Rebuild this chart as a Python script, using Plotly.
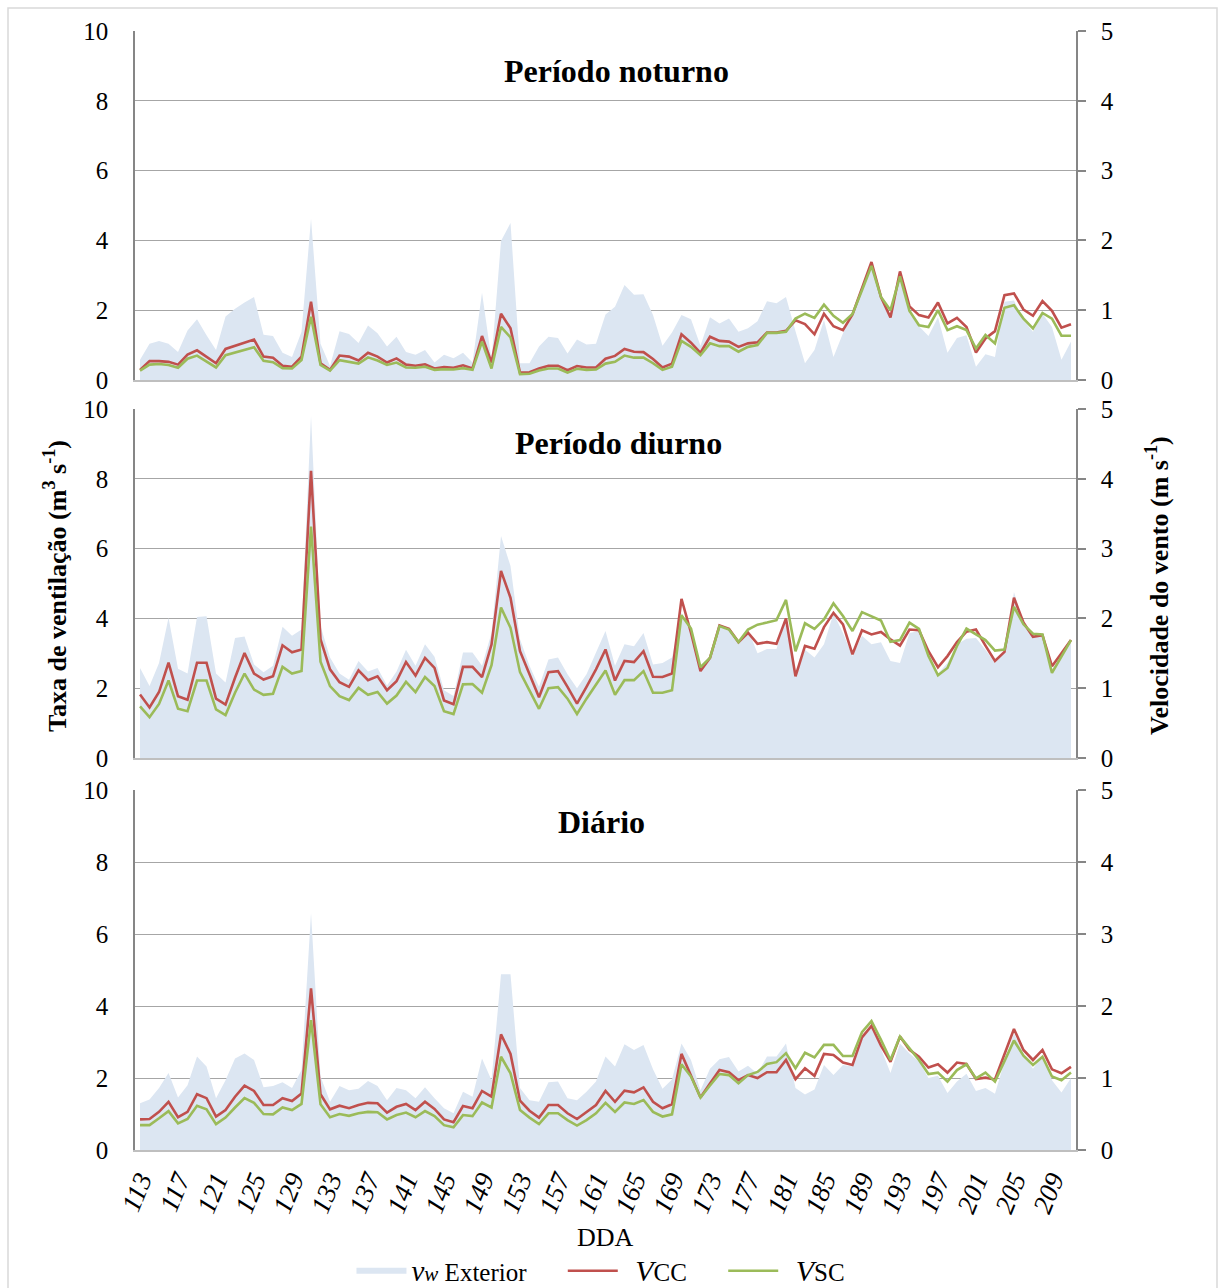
import plotly.graph_objects as go

days = list(range(113, 212))
tick_days = list(range(113, 211, 4))
tick_labels = [str(d) for d in tick_days]

# ---------- Período noturno ----------
vcc_noturno = [0.29,0.54,0.54,0.52,0.44,0.73,0.85,0.67,0.48,0.89,0.98,1.07,1.16,0.67,0.64,0.41,0.38,0.67,2.24,0.48,
               0.29,0.70,0.67,0.56,0.78,0.67,0.50,0.62,0.44,0.41,0.45,0.33,0.37,0.35,0.42,0.33,1.26,0.50,1.90,1.48,
               0.21,0.22,0.33,0.41,0.41,0.28,0.40,0.36,0.36,0.61,0.69,0.89,0.81,0.80,0.60,0.36,0.47,1.31,1.07,0.78,
               1.24,1.12,1.10,0.95,1.05,1.08,1.36,1.36,1.41,1.71,1.60,1.31,1.90,1.54,1.43,1.88,2.65,3.38,2.38,1.79,
               3.11,2.11,1.86,1.79,2.22,1.62,1.78,1.52,0.79,1.19,1.40,2.43,2.48,2.02,1.84,2.26,1.98,1.50,1.60]
vsc_noturno = [0.27,0.44,0.46,0.43,0.35,0.61,0.70,0.52,0.36,0.71,0.79,0.87,0.94,0.55,0.51,0.34,0.33,0.57,1.81,0.43,
               0.27,0.57,0.53,0.47,0.65,0.56,0.43,0.50,0.36,0.35,0.38,0.29,0.31,0.30,0.34,0.29,1.10,0.33,1.52,1.22,
               0.17,0.18,0.27,0.33,0.33,0.21,0.32,0.29,0.30,0.47,0.52,0.70,0.64,0.64,0.48,0.29,0.38,1.12,0.95,0.71,
               1.05,0.97,0.97,0.81,0.95,1.00,1.35,1.35,1.38,1.76,1.90,1.78,2.16,1.84,1.64,1.89,2.57,3.27,2.38,2.00,
               2.97,1.98,1.57,1.52,2.00,1.43,1.54,1.43,0.90,1.29,1.05,2.07,2.14,1.76,1.48,1.92,1.76,1.27,1.27]
vw_noturno = [0.29,0.52,0.56,0.52,0.40,0.71,0.87,0.64,0.43,0.91,1.02,1.11,1.19,0.65,0.63,0.39,0.33,0.69,2.31,0.52,
              0.20,0.70,0.66,0.53,0.78,0.67,0.48,0.62,0.40,0.36,0.43,0.25,0.36,0.31,0.39,0.25,1.25,0.29,1.99,2.25,
              0.24,0.24,0.48,0.62,0.60,0.38,0.58,0.51,0.52,0.94,1.05,1.36,1.22,1.23,0.93,0.49,0.68,0.93,0.87,0.49,
              0.90,0.81,0.88,0.69,0.74,0.84,1.13,1.10,1.19,0.70,0.24,0.43,0.86,0.33,0.67,0.95,1.31,1.64,1.19,0.93,
              1.48,0.95,0.77,0.63,0.90,0.39,0.60,0.64,0.19,0.37,0.33,1.12,1.14,0.86,0.69,0.95,0.76,0.29,0.55]

# ---------- Período diurno ----------
vcc_diurno = [1.82,1.45,1.89,2.73,1.77,1.67,2.73,2.73,1.70,1.53,2.30,3.01,2.42,2.25,2.34,3.23,3.03,3.11,8.23,3.40,
              2.54,2.17,2.04,2.51,2.23,2.34,1.94,2.20,2.75,2.36,2.87,2.58,1.65,1.54,2.61,2.61,2.32,3.25,5.36,4.59,
              3.06,2.39,1.74,2.46,2.49,2.04,1.56,2.04,2.54,3.11,2.22,2.78,2.75,3.06,2.33,2.32,2.42,4.56,3.59,2.49,
              2.87,3.80,3.70,3.32,3.59,3.27,3.32,3.27,4.00,2.34,3.21,3.13,3.75,4.16,3.83,2.97,3.66,3.54,3.61,3.40,
              3.22,3.68,3.66,3.06,2.60,2.92,3.32,3.62,3.68,3.22,2.78,3.04,4.59,3.88,3.47,3.52,2.63,3.00,3.38]
vsc_diurno = [1.48,1.17,1.55,2.22,1.41,1.34,2.22,2.22,1.39,1.23,1.87,2.42,1.96,1.81,1.84,2.61,2.42,2.49,6.63,2.76,
              2.06,1.77,1.66,2.01,1.81,1.89,1.56,1.79,2.18,1.89,2.32,2.06,1.34,1.26,2.11,2.12,1.87,2.66,4.31,3.73,
              2.46,1.93,1.41,2.00,2.03,1.70,1.26,1.70,2.11,2.51,1.81,2.23,2.23,2.49,1.87,1.87,1.94,4.09,3.71,2.60,
              2.87,3.78,3.68,3.32,3.68,3.82,3.88,3.95,4.53,3.06,3.86,3.70,3.97,4.43,4.07,3.64,4.18,4.07,3.94,3.33,
              3.38,3.88,3.70,2.92,2.37,2.58,3.21,3.71,3.54,3.38,3.08,3.11,4.33,3.83,3.56,3.54,2.44,2.92,3.38]
vw_diurno = [1.29,1.03,1.36,2.01,1.28,1.21,2.02,2.03,1.21,1.08,1.72,1.74,1.34,1.23,1.32,1.88,1.75,1.84,4.90,1.89,
             1.44,1.21,1.12,1.39,1.24,1.29,1.04,1.24,1.55,1.32,1.63,1.45,0.97,0.89,1.51,1.51,1.32,1.79,3.18,2.75,
             1.70,1.32,1.02,1.41,1.44,1.20,1.00,1.20,1.51,1.82,1.32,1.63,1.60,1.79,1.34,1.36,1.44,2.08,1.79,1.32,
             1.46,1.89,1.82,1.65,1.84,1.50,1.56,1.56,1.99,1.15,1.55,1.44,1.63,2.07,1.79,1.46,1.75,1.63,1.66,1.39,
             1.36,1.79,1.82,1.46,1.21,1.36,1.63,1.71,1.72,1.55,1.36,1.51,2.38,1.93,1.75,1.77,1.27,1.48,1.69]

# ---------- Diário ----------
vcc_diario = [0.85,0.86,1.06,1.34,0.91,1.06,1.55,1.44,0.93,1.11,1.48,1.79,1.64,1.25,1.25,1.44,1.36,1.57,4.49,1.55,
              1.13,1.23,1.16,1.25,1.31,1.30,1.04,1.20,1.28,1.11,1.34,1.14,0.85,0.77,1.22,1.16,1.64,1.48,3.21,2.67,
              1.37,1.09,0.90,1.25,1.25,1.02,0.86,1.05,1.25,1.64,1.34,1.65,1.60,1.74,1.34,1.16,1.27,2.67,2.08,1.46,
              1.85,2.22,2.16,1.94,2.08,2.00,2.16,2.16,2.50,1.97,2.27,2.06,2.67,2.64,2.43,2.36,3.13,3.45,2.90,2.45,
              3.15,2.78,2.59,2.29,2.38,2.15,2.43,2.39,1.97,2.01,1.96,2.69,3.36,2.78,2.50,2.78,2.24,2.13,2.31]
vsc_diario = [0.69,0.69,0.88,1.08,0.74,0.86,1.23,1.13,0.72,0.90,1.18,1.44,1.31,1.00,0.99,1.18,1.11,1.28,3.61,1.27,
              0.91,1.00,0.95,1.02,1.06,1.05,0.85,0.97,1.04,0.91,1.08,0.94,0.69,0.63,0.97,0.94,1.32,1.18,2.59,2.13,
              1.11,0.90,0.72,1.02,1.02,0.83,0.68,0.83,1.02,1.31,1.06,1.32,1.28,1.39,1.06,0.93,0.99,2.38,2.04,1.46,
              1.79,2.11,2.08,1.85,2.08,2.17,2.39,2.44,2.69,2.27,2.70,2.57,2.92,2.92,2.61,2.61,3.27,3.58,3.06,2.50,
              3.15,2.82,2.50,2.11,2.15,1.90,2.22,2.38,1.99,2.15,1.90,2.47,3.04,2.62,2.36,2.59,2.04,1.94,2.15]
vw_diario = [0.65,0.70,0.86,1.07,0.73,0.90,1.30,1.16,0.72,0.97,1.27,1.34,1.25,0.87,0.89,0.94,0.86,1.11,3.29,1.02,
             0.67,0.89,0.83,0.85,0.96,0.89,0.69,0.86,0.83,0.72,0.87,0.72,0.58,0.51,0.81,0.74,1.27,0.97,2.44,2.44,
             0.86,0.69,0.67,0.94,0.95,0.72,0.69,0.81,0.95,1.30,1.16,1.47,1.39,1.46,1.12,0.85,0.98,1.48,1.25,0.83,
             1.13,1.26,1.29,1.09,1.17,1.06,1.30,1.30,1.48,0.86,0.77,0.84,1.18,1.04,1.18,1.16,1.55,1.71,1.41,1.07,
             1.48,1.34,1.23,1.00,1.03,0.79,0.95,1.06,0.82,0.86,0.78,1.23,1.62,1.34,1.13,1.32,0.97,0.80,1.00]

panel_titles = ["Período noturno", "Período diurno", "Diário"]
panels = [
    (vw_noturno, vcc_noturno, vsc_noturno),
    (vw_diurno, vcc_diurno, vsc_diurno),
    (vw_diario, vcc_diario, vsc_diario),
]

W, H = 1219, 1288
FONT = "'Liberation Serif', 'Times New Roman', Times, serif"
AREA = "#dce6f2"
RED = "#c0504d"
GREEN = "#9bbb59"
GRID = "#a6a6a6"
AXIS = "#868686"
NB = "\u00a0"

def py(pix):
    return 1 - pix / H

x_dom = [135 / W, 1076 / W]
y_doms = [[py(380), py(31)], [py(758), py(409)], [py(1150), py(790)]]

fig = go.Figure()
layout = dict(
    width=W, height=H,
    margin=dict(l=0, r=0, t=0, b=0, autoexpand=False),
    paper_bgcolor="white", plot_bgcolor="rgba(0,0,0,0)",
    font=dict(family=FONT, color="black", size=22),
    showlegend=True,
)

legend_names = [
    "<span style='font-size:29px'><i>v</i></span><span style='font-size:21px'><i>w</i></span> Exterior" + NB * 5,
    NB * 2 + "<span style='font-size:30px'><i>V</i></span>CC" + NB * 5,
    NB * 2 + "<span style='font-size:30px'><i>V</i></span>SC",
]

for i, (vw, vcc, vsc) in enumerate(panels):
    xa = "x" if i == 0 else f"x{i+1}"
    ya_area = "y" if i == 0 else f"y{2*i+1}"
    ya_line = f"y{2*i+2}"
    show = (i == 0)
    fig.add_trace(go.Scatter(x=days, y=vw, xaxis=xa, yaxis=ya_area, mode="none",
                             fill="tozeroy", fillcolor=AREA,
                             name=legend_names[0], showlegend=show, legendrank=1))
    fig.add_trace(go.Scatter(x=days, y=vcc, xaxis=xa, yaxis=ya_line, mode="lines",
                             line=dict(color=RED, width=2.6),
                             name=legend_names[1], showlegend=show, legendrank=2))
    fig.add_trace(go.Scatter(x=days, y=vsc, xaxis=xa, yaxis=ya_line, mode="lines",
                             line=dict(color=GREEN, width=2.6),
                             name=legend_names[2], showlegend=show, legendrank=3))

    xkey = "xaxis" if i == 0 else f"xaxis{i+1}"
    ykey_area = "yaxis" if i == 0 else f"yaxis{2*i+1}"
    ykey_line = f"yaxis{2*i+2}"
    last = (i == 2)
    layout[xkey] = dict(
        domain=x_dom, anchor=ya_area, range=[112.47, 211.53], automargin=False,
        showgrid=False, zeroline=False, showline=True, linecolor="#bfbfbf", linewidth=1.5,
        ticks="", tickmode="array", tickvals=tick_days, ticktext=tick_labels,
        showticklabels=last, tickangle=-68, ticklabelstandoff=2,
        tickfont=dict(family=FONT, size=27, color="black", style="italic"),
    )
    if i > 0:
        layout[xkey]["matches"] = "x"
    layout[ykey_area] = dict(
        domain=y_doms[i], anchor=xa, side="right", range=[0, 5], automargin=False,
        tickmode="linear", tick0=0, dtick=1,
        showgrid=False, zeroline=False, showline=True, linecolor=AXIS, linewidth=1.5,
        ticks="outside", ticklen=8, tickwidth=1.5, tickcolor=AXIS,
        ticklabelstandoff=10,
        tickfont=dict(family=FONT, size=25, color="black"),
    )
    layout[ykey_line] = dict(
        overlaying=ya_area, anchor=xa, side="left", range=[0, 10], automargin=False,
        tickmode="linear", tick0=0, dtick=2,
        showgrid=True, gridcolor=GRID, gridwidth=1.4, zeroline=False,
        showline=True, linecolor=AXIS, linewidth=1.5, ticks="",
        ticklabelstandoff=20,
        tickfont=dict(family=FONT, size=25, color="black"),
    )

annotations = []
title_pos = [(616, 71), (618, 443), (601, 822)]
for t, (tx, ty) in zip(panel_titles, title_pos):
    annotations.append(dict(text=f"<b>{t}</b>", x=tx / W, y=py(ty), xref="paper", yref="paper",
                            showarrow=False, xanchor="center", yanchor="middle",
                            font=dict(family=FONT, size=32, color="black")))
annotations.append(dict(text="<b>Taxa de ventilação (m<sup>3</sup> s<sup>-1</sup>)</b>",
                        x=55 / W, y=py(586), xref="paper", yref="paper", textangle=-90,
                        showarrow=False, xanchor="center", yanchor="middle",
                        font=dict(family=FONT, size=26, color="black")))
annotations.append(dict(text="<b>Velocidade do vento (m s<sup>-1</sup>)</b>",
                        x=1157 / W, y=py(586), xref="paper", yref="paper", textangle=-90,
                        showarrow=False, xanchor="center", yanchor="middle",
                        font=dict(family=FONT, size=26, color="black")))
annotations.append(dict(text="DDA", x=605 / W, y=py(1237), xref="paper", yref="paper",
                        showarrow=False, xanchor="center", yanchor="middle",
                        font=dict(family=FONT, size=26, color="black")))
layout["annotations"] = annotations

layout["shapes"] = [dict(type="rect", xref="paper", yref="paper",
                         x0=8 / W, x1=1217 / W, y0=-0.01, y1=py(8),
                         line=dict(color="#d9d9d9", width=1.5), fillcolor="rgba(0,0,0,0)",
                         layer="below")]

layout["legend"] = dict(orientation="h", x=0.493, xanchor="center", y=py(1271), yanchor="middle",
                        font=dict(family=FONT, size=25, color="black"),
                        itemwidth=50, bgcolor="rgba(0,0,0,0)", tracegroupgap=0)

fig.update_layout(**layout)
fig.write_html("out.html", config={"displayModeBar": False},
               post_script="document.body.style.margin='0px';document.body.style.overflow='hidden';")
